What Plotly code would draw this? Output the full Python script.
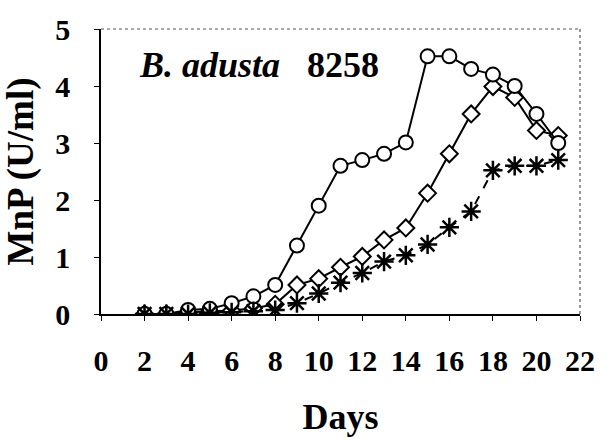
import plotly.graph_objects as go

days = list(range(2, 22))
circles = [0.0, 0.0, 0.07, 0.09, 0.19, 0.31, 0.51, 1.2, 1.9, 2.6, 2.7, 2.81, 3.01, 4.52, 4.52, 4.3, 4.2, 4.0, 3.51, 3.0]
diamonds = [0.0, 0.0, 0.03, 0.05, 0.06, 0.1, 0.17, 0.51, 0.62, 0.82, 1.01, 1.3, 1.51, 2.12, 2.81, 3.51, 3.99, 3.8, 3.22, 3.13]
stars = [0.0, 0.0, 0.0, 0.02, 0.03, 0.05, 0.07, 0.19, 0.36, 0.55, 0.72, 0.92, 1.03, 1.22, 1.52, 1.8, 2.52, 2.6, 2.6, 2.7]

x_ticks = list(range(0, 23, 2))
y_ticks = [0, 1, 2, 3, 4, 5]

font = "Liberation Serif"
fig = go.Figure()
fig.add_trace(go.Scatter(x=days, y=diamonds, mode="lines+markers",
                         line=dict(color="black", width=2),
                         marker=dict(symbol="diamond", size=13, color="white",
                                     line=dict(color="black", width=2))))
fig.add_trace(go.Scatter(x=days, y=circles, mode="lines+markers",
                         line=dict(color="black", width=2),
                         marker=dict(symbol="circle", size=14, color="white",
                                     line=dict(color="black", width=2))))
fig.add_trace(go.Scatter(x=days, y=stars, mode="lines+markers",
                         line=dict(color="black", width=2, dash="dash"),
                         marker=dict(symbol="asterisk-open", size=16, color="black",
                                     line=dict(color="black", width=2.5))))

fig.update_layout(
    width=607, height=442,
    margin=dict(l=101, r=20, t=25, b=125),
    paper_bgcolor="white", plot_bgcolor="white",
    showlegend=False,
    font=dict(family=font, color="black"),
    xaxis=dict(range=[0, 22], tickvals=x_ticks, ticktext=[str(v) for v in x_ticks],
               showgrid=False, zeroline=False, showline=True, linecolor="black", linewidth=1.5,
               ticks="outside", ticklen=5, tickcolor="black",
               ticklabelstandoff=14,
               tickfont=dict(family=font, size=30, color="black", weight="bold"),
               title=dict(text="<b>Days</b>", font=dict(family=font, size=36), standoff=28)),
    yaxis=dict(range=[0, 5], tickvals=y_ticks, ticktext=[str(v) for v in y_ticks],
               showgrid=False, zeroline=False, showline=True, linecolor="black", linewidth=1.5,
               ticks="outside", ticklen=5, tickcolor="black",
               ticklabelstandoff=18,
               tickfont=dict(family=font, size=30, color="black", weight="bold"),
               title=dict(text="<b>MnP (U/ml)</b>", font=dict(family=font, size=37), standoff=12)),
    shapes=[
        dict(type="line", xref="paper", yref="paper", x0=0, x1=1, y0=1, y1=1,
             line=dict(color="#555555", width=1.2, dash="dot")),
        dict(type="line", xref="paper", yref="paper", x0=1, x1=1, y0=0, y1=1,
             line=dict(color="#555555", width=1.2, dash="dot")),
    ],
)
fig.add_annotation(x=0.076, y=0.873, xref="paper", yref="paper", xanchor="left", yanchor="middle",
                   text="<b><i>B. adusta</i>   8258</b>", showarrow=False,
                   font=dict(family=font, size=36, color="black"))
fig.write_html("out.html")
